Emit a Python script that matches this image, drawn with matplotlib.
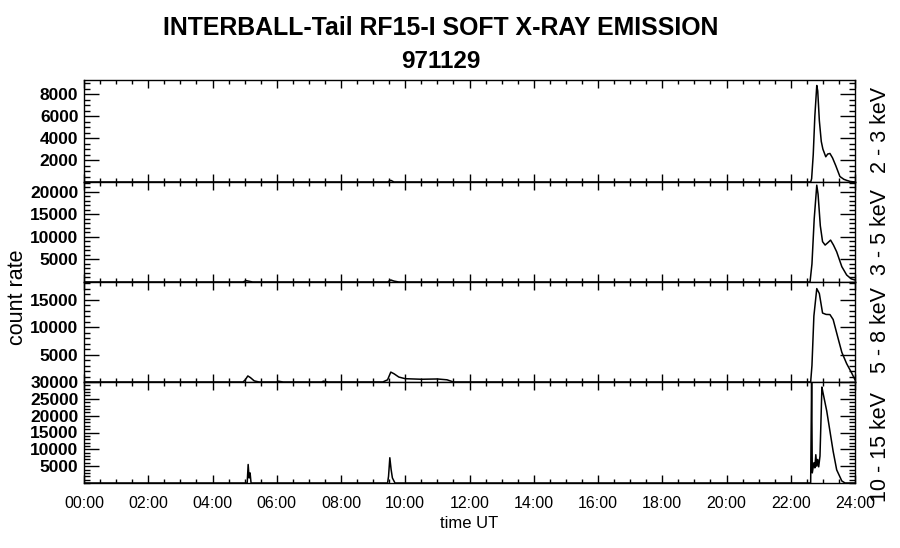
import matplotlib
matplotlib.use("Agg")
import matplotlib.pyplot as plt
from matplotlib.ticker import MultipleLocator, FixedLocator, FuncFormatter
import numpy as np

plt.rcParams['font.family'] = ['Liberation Sans', 'DejaVu Sans']

# ---- data (time in hours UT, count rate) ----
t_23 = [0.0, 9.45, 9.55, 9.65, 22.62, 22.65, 22.70, 22.75, 22.81, 22.84, 22.89,
        22.95, 23.00, 23.09, 23.15, 23.22, 23.30, 23.40, 23.53, 23.65, 23.74, 23.85, 24.0]
c_23 = [0, 0, 150, 0, 0, 300, 2500, 6000, 8800, 8300, 5600,
        3700, 3000, 2300, 2550, 2600, 2200, 1500, 500, 250, 150, 50, 0]

t_35 = [0.0, 4.95, 5.05, 5.15, 5.25, 9.45, 9.55, 9.65, 9.80, 22.60, 22.66, 22.73,
        22.81, 22.85, 22.92, 22.99, 23.07, 23.15, 23.24, 23.33, 23.43, 23.59,
        23.74, 23.88, 24.0]
c_35 = [0, 0, 300, 150, 0, 0, 450, 200, 0, 0, 4000, 14000,
        21500, 19500, 12500, 8960, 8200, 8700, 9300, 8200, 6700, 3400,
        1560, 700, 450]

t_58 = [0.0, 4.95, 5.02, 5.10, 5.18, 5.30, 5.45, 6.00, 6.05, 6.20, 7.40, 7.45, 7.60,
        9.30, 9.45, 9.55, 9.65, 9.80, 10.00, 10.50, 11.00, 11.30, 11.50,
        22.62, 22.66, 22.72, 22.81, 22.89, 22.99, 23.10, 23.22, 23.32, 23.48,
        23.59, 23.74, 23.90, 24.0]
c_58 = [0, 0, 400, 1100, 800, 200, 0, 0, 150, 0, 0, 150, 0,
        0, 400, 1800, 1500, 900, 600, 500, 550, 400, 0,
        0, 3000, 12000, 17000, 16100, 12550, 12300, 12270, 11370, 7800,
        5400, 3340, 1600, 400]

t_1015 = [0.0, 5.08, 5.11, 5.14, 5.17, 5.20, 9.45, 9.48, 9.52, 9.56, 9.60, 9.68,
          22.62, 22.65, 22.67, 22.72, 22.75, 22.78, 22.81, 22.84, 22.87, 22.91,
          22.97, 23.00, 23.12, 23.22, 23.32, 23.43, 23.59, 23.69, 24.0]
c_1015 = [0, 0, 5500, 1500, 3000, 0, 0, 2000, 7500, 4000, 1500, 0,
          0, 31000, 3000, 6000, 4500, 8400, 5000, 7000, 4800, 8000,
          28500, 27000, 21400, 15400, 9400, 3900, 600, 0, 0]

series = [(t_23, c_23), (t_35, c_35), (t_58, c_58), (t_1015, c_1015)]
band_labels = ['2 - 3 keV', '3 - 5 keV', '5 - 8 keV', '10 - 15 keV']
y_max = [9300, 22200, 18200, 30000]
y_major = [[2000, 4000, 6000, 8000],
           [5000, 10000, 15000, 20000],
           [5000, 10000, 15000],
           [5000, 10000, 15000, 20000, 25000, 30000]]
y_minor = [500, 1000, 1000, 1000]
x_labels = ['00:00', '02:00', '04:00', '06:00', '08:00', '10:00', '12:00',
            '14:00', '16:00', '18:00', '20:00', '22:00', '24:00']

W, H = 900, 548
fig = plt.figure(figsize=(W / 100, H / 100), dpi=100)

left, right = 84 / W, 855 / W
edges = [80, 182, 282, 382, 483]
label_y = [130, 232, 330, 447]

for i, (t, c) in enumerate(series):
    top = 1 - edges[i] / H
    bot = 1 - edges[i + 1] / H
    ax = fig.add_axes([left, bot, right - left, top - bot])
    ax.plot(t, c, color='black', lw=1.1)
    ax.set_xlim(0, 24)
    ax.set_ylim(0, y_max[i])
    for sp in ax.spines.values():
        sp.set_linewidth(1.0)
    ax.xaxis.set_major_locator(MultipleLocator(2))
    ax.xaxis.set_minor_locator(MultipleLocator(0.5))
    ax.yaxis.set_major_locator(FixedLocator(y_major[i]))
    ax.yaxis.set_minor_locator(MultipleLocator(y_minor[i]))
    ax.tick_params(axis='both', which='both', direction='in', top=True, right=True,
                   color='black', width=1.0)
    ax.tick_params(axis='x', which='major', length=6)
    ax.tick_params(axis='x', which='minor', length=2.8)
    ax.tick_params(axis='y', which='major', length=10.5, pad=4)
    ax.tick_params(axis='y', which='minor', length=4.3)
    ax.yaxis.set_major_formatter(FuncFormatter(lambda v, p: '%d' % v))
    for lab in ax.get_yticklabels():
        lab.set_fontsize(12.5)
        lab.set_fontweight('bold')
    if i < 3:
        ax.tick_params(axis='x', labelbottom=False)
    else:
        ax.set_xticks(np.arange(0, 25, 2))
        ax.set_xticklabels(x_labels, fontsize=11.5)
        ax.tick_params(axis='x', which='major', pad=9)
        ax.set_xlabel('time UT', fontsize=12, labelpad=4)
    fig.text(880 / W, 1 - label_y[i] / H, band_labels[i], rotation=90,
             ha='center', va='center', fontsize=15.5)

fig.text(441 / W, 1 - 28 / H, 'INTERBALL-Tail RF15-I SOFT X-RAY EMISSION',
         ha='center', va='center', fontsize=17.9, fontweight='bold')
fig.text(441 / W, 1 - 61 / H, '971129', ha='center', va='center',
         fontsize=17.5, fontweight='bold')
fig.text(18 / W, 1 - 297 / H, 'count rate', rotation=90, ha='center',
         va='center', fontsize=15.5)

fig.savefig('out.png', dpi=100, facecolor='white')
